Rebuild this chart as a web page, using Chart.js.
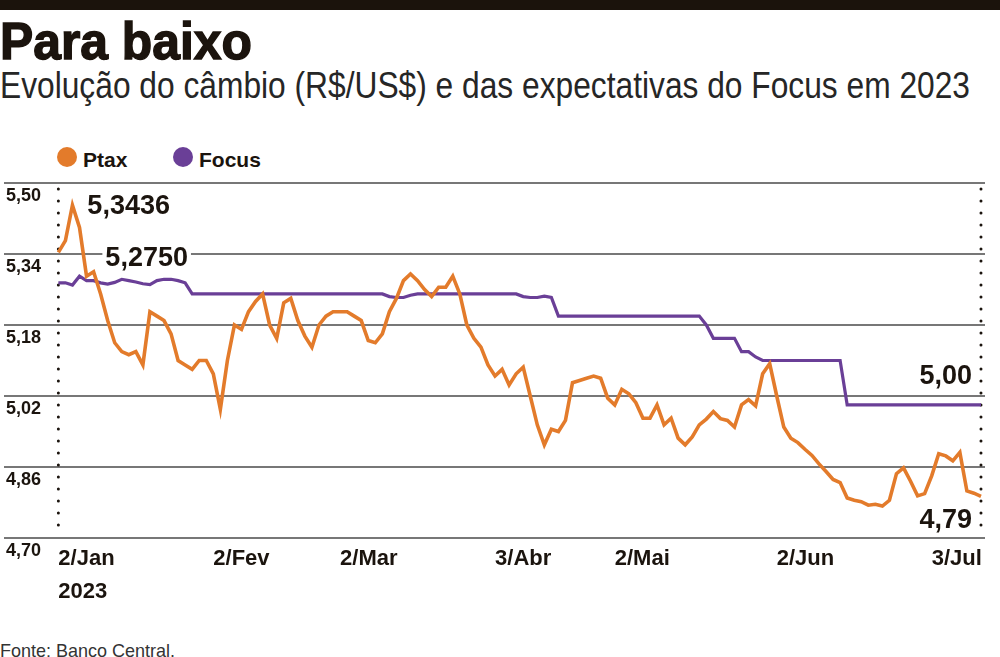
<!DOCTYPE html>
<html lang="pt-BR">
<head>
<meta charset="utf-8">
<title>Para baixo</title>
<script src="https://cdn.jsdelivr.net/npm/chart.js@4.4.1/dist/chart.umd.min.js"></script>
<style>
  html, body { margin: 0; padding: 0; background: #fff; }
  body { width: 1000px; height: 657px; position: relative; overflow: hidden;
         font-family: "Liberation Sans", Arial, sans-serif; color: #1b140e; }
  #bar { position: absolute; left: 0; top: 0; width: 1000px; height: 10px; background: #1b130c; }
  .fit { position: absolute; left: 0; margin: 0; white-space: nowrap; transform-origin: 0 0; }
  #title { top: 15px; font-size: 52px; line-height: 52px; font-weight: 700;
           -webkit-text-stroke: 1.4px #1b130c; }
  #sub { top: 67px; font-size: 37px; line-height: 37px; font-weight: 400; color: #262626; }
  #source { top: 641px; font-size: 19px; line-height: 19px; color: #333; }
  .dot { position: absolute; top: 147px; width: 20px; height: 20px; border-radius: 50%; }
  .lbl { position: absolute; top: 149px; font-size: 21px; line-height: 21px; font-weight: 700; }
  #chart { position: absolute; left: 0; top: 170px; width: 1000px; height: 440px; }
</style>
</head>
<body>
<div id="bar"></div>
<h1 id="title" class="fit">Para baixo</h1>
<div id="sub" class="fit">Evolução do câmbio (R$/US$) e das expectativas do Focus em 2023</div>

<span class="dot" style="left:57px;background:#e37b2b"></span><span class="lbl" style="left:83px">Ptax</span>
<span class="dot" style="left:173px;background:#6a3f97"></span><span class="lbl" style="left:199px">Focus</span>

<canvas id="chart" width="1000" height="440"></canvas>
<div id="source" class="fit">Fonte: Banco Central.</div>

<script>
// cotação diária Ptax (R$/US$), dias úteis de 2/jan a meados de jul/2023
const ptax = [
  5.3436, 5.37, 5.45, 5.40, 5.29, 5.30, 5.25, 5.19, 5.14, 5.12,
  5.113, 5.12, 5.09, 5.21, 5.20, 5.19, 5.16, 5.10, 5.09, 5.08,
  5.10, 5.10, 5.07, 4.99, 5.10, 5.18, 5.17, 5.21, 5.233, 5.25,
  5.18, 5.15, 5.23, 5.24, 5.19, 5.155, 5.13, 5.18, 5.20, 5.21,
  5.21, 5.21, 5.20, 5.19, 5.145, 5.14, 5.16, 5.21, 5.24, 5.28,
  5.295, 5.28, 5.26, 5.244, 5.265, 5.265, 5.29, 5.25, 5.18, 5.15,
  5.13, 5.09, 5.065, 5.08, 5.045, 5.07, 5.085, 5.02, 4.955, 4.91,
  4.945, 4.94, 4.965, 5.05, 5.055, 5.06, 5.065, 5.06, 5.015, 5.00,
  5.035, 5.025, 5.005, 4.97, 4.97, 5.00, 4.955, 4.97, 4.925, 4.91,
  4.928, 4.955, 4.968, 4.985, 4.969, 4.965, 4.95, 5.00, 5.012, 4.998,
  5.07, 5.093, 5.02, 4.95, 4.925, 4.915, 4.90, 4.886, 4.867, 4.85,
  4.832, 4.825, 4.79, 4.785, 4.782, 4.774, 4.776, 4.772, 4.785, 4.845,
  4.858, 4.828, 4.795, 4.80, 4.84, 4.89, 4.885, 4.874, 4.893, 4.806,
  4.801, 4.794
];

// mediana Focus para o câmbio no fim de 2023
const focus = [
  5.275, 5.275, 5.27, 5.29, 5.28, 5.28, 5.275, 5.272, 5.276, 5.283,
  5.28, 5.277, 5.273, 5.271, 5.28, 5.283, 5.283, 5.28, 5.275, 5.25,
  5.25, 5.25, 5.25, 5.25, 5.25, 5.25, 5.25, 5.25, 5.25, 5.25,
  5.25, 5.25, 5.25, 5.25, 5.25, 5.25, 5.25, 5.25, 5.25, 5.25,
  5.25, 5.25, 5.25, 5.25, 5.25, 5.25, 5.25, 5.244, 5.242, 5.242,
  5.247, 5.25, 5.25, 5.25, 5.25, 5.25, 5.25, 5.25, 5.25, 5.25,
  5.25, 5.25, 5.25, 5.25, 5.25, 5.25, 5.244, 5.242, 5.242, 5.245,
  5.242, 5.20, 5.20, 5.20, 5.20, 5.20, 5.20, 5.20, 5.20, 5.20,
  5.20, 5.20, 5.20, 5.20, 5.20, 5.20, 5.20, 5.20, 5.20, 5.20,
  5.20, 5.20, 5.18, 5.15, 5.15, 5.15, 5.15, 5.12, 5.12, 5.108,
  5.10, 5.10, 5.10, 5.10, 5.10, 5.10, 5.10, 5.10, 5.10, 5.10,
  5.10, 5.10, 5.00, 5.00, 5.00, 5.00, 5.00, 5.00, 5.00, 5.00,
  5.00, 5.00, 5.00, 5.00, 5.00, 5.00, 5.00, 5.00, 5.00, 5.00,
  5.00, 5.00
];

// eixo horizontal: posição (dia útil) e texto de cada marca
const tickIdx = [0, 22, 40, 62, 79, 102, 124];
const tickText = ['2/Jan', '2/Fev', '2/Mar', '3/Abr', '2/Mai', '2/Jun', '3/Jul'];
const yearText = '2023';

// eixo vertical
const yTicks = [4.70, 4.86, 5.02, 5.18, 5.34, 5.50];

const INK = '#1b140e';
const ORANGE = '#e37b2b';
const PURPLE = '#6a3f97';
const FONT = '"Liberation Sans", Arial, sans-serif';

const fmt = (v, d) => v.toFixed(d).replace('.', ',');

// ajusta largura dos textos condensados
function fit(id, w) {
  const el = document.getElementById(id);
  el.style.transform = 'scaleX(' + (w / el.getBoundingClientRect().width) + ')';
}
fit('title', 252);
fit('sub', 970);
fit('source', 175);

Chart.defaults.font.family = FONT;

// linhas pontilhadas no início e no fim da série
const guides = {
  id: 'guides',
  beforeDatasetsDraw(chart) {
    const { ctx, chartArea: a, scales: { x } } = chart;
    ctx.save();
    ctx.strokeStyle = INK;
    ctx.lineWidth = 3;
    ctx.lineCap = 'round';
    ctx.setLineDash([0, 12]);
    [0, ptax.length - 1].forEach(i => {
      const px = x.getPixelForValue(i);
      ctx.beginPath();
      ctx.moveTo(px, a.top + 6);
      ctx.lineTo(px, a.bottom - 4);
      ctx.stroke();
    });
    ctx.restore();
  }
};

// valores de destaque
const notes = {
  id: 'notes',
  afterDatasetsDraw(chart) {
    const { ctx, scales: { x, y } } = chart;
    const last = ptax.length - 1;
    const items = [
      { text: fmt(ptax[0], 4), i: 0, v: ptax[0], dx: 29, dy: -46, align: 'left' },
      { text: fmt(focus[0], 4), i: 0, v: focus[0], dx: 47, dy: -24, align: 'left', bg: true },
      { text: fmt(focus[last], 2), i: last, v: focus[last], dx: -9, dy: -28, align: 'right' },
      { text: fmt(ptax[last], 2), i: last, v: ptax[last], dx: -9, dy: 24, align: 'right' }
    ];
    ctx.save();
    ctx.font = 'bold 27px ' + FONT;
    ctx.textBaseline = 'middle';
    items.forEach(n => {
      const px = x.getPixelForValue(n.i) + n.dx;
      const py = y.getPixelForValue(n.v) + n.dy;
      ctx.textAlign = n.align;
      if (n.bg) {
        const w = ctx.measureText(n.text).width;
        ctx.fillStyle = '#fff';
        ctx.fillRect(n.align === 'left' ? px - 3 : px - w - 3, py - 13, w + 6, 24);
      }
      ctx.fillStyle = INK;
      ctx.fillText(n.text, px, py);
    });
    ctx.restore();
  }
};

new Chart(document.getElementById('chart'), {
  type: 'line',
  data: {
    datasets: [
      {
        label: 'Ptax',
        data: ptax.map((v, i) => ({ x: i, y: v })),
        borderColor: ORANGE,
        borderWidth: 3.6,
        pointRadius: 0,
        tension: 0
      },
      {
        label: 'Focus',
        data: focus.map((v, i) => ({ x: i, y: v })),
        borderColor: PURPLE,
        borderWidth: 3.2,
        pointRadius: 0,
        tension: 0
      }
    ]
  },
  options: {
    responsive: false,
    animation: false,
    layout: { padding: { top: 13, right: 15, left: 0, bottom: 0 } },
    plugins: { legend: { display: false }, tooltip: { enabled: false } },
    scales: {
      x: {
        type: 'linear',
        min: -7.72,
        max: 131.57,
        grid: { display: false },
        border: { display: false },
        afterBuildTicks: s => { s.ticks = tickIdx.map(v => ({ value: v })); },
        afterFit: s => { s.height = 72; },
        ticks: {
          autoSkip: false,
          maxRotation: 0,
          align: 'start',
          padding: -4,
          color: INK,
          font: { size: 22, weight: 'bold', lineHeight: 1.5 },
          callback: v => {
            const k = tickIdx.indexOf(v);
            return k === 0 ? [tickText[0], yearText] : tickText[k];
          }
        }
      },
      y: {
        min: 4.70,
        max: 5.50,
        afterBuildTicks: s => { s.ticks = yTicks.map(v => ({ value: v })); },
        grid: { color: '#777', lineWidth: 2, drawTicks: false },
        border: { display: false },
        ticks: {
          mirror: true,
          padding: 2,
          labelOffset: 13,
          color: INK,
          font: { size: 18, weight: 'bold' },
          callback: v => fmt(v, 2)
        }
      }
    }
  },
  plugins: [guides, notes]
});
</script>
</body>
</html>
